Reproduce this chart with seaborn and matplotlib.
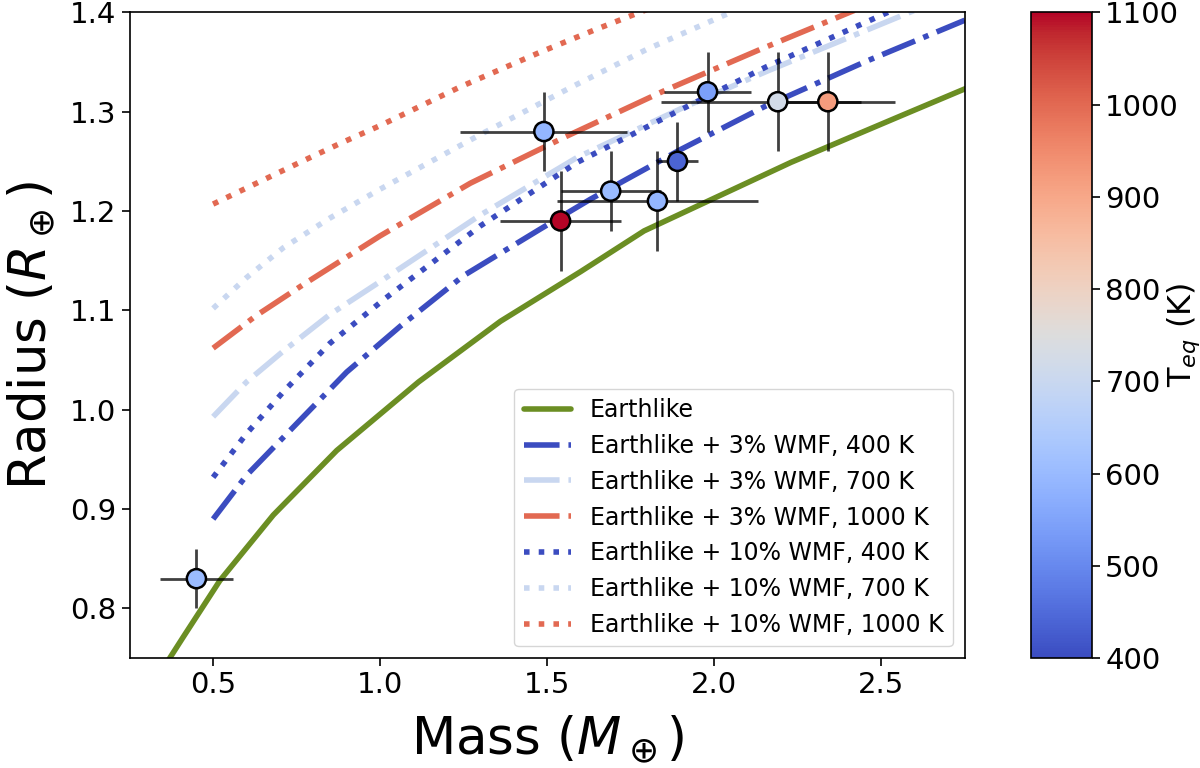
import numpy as np
import pandas as pd
import seaborn as sns
import matplotlib.pyplot as plt
from matplotlib.colors import Normalize
from matplotlib.cm import ScalarMappable

# === Données : planètes observées ===
masse = [0.45, 1.49, 1.54, 1.69, 1.83, 1.89, 1.98, 2.19, 2.34]
rayon = [0.83, 1.28, 1.19, 1.22, 1.21, 1.25, 1.32, 1.31, 1.31]
masse_err_bas = [0.11, 0.25, 0.18, 0.15, 0.30, 0.06, 0.13, 0.35, 0.13]
masse_err_haut = [0.11, 0.25, 0.18, 0.15, 0.30, 0.06, 0.13, 0.25, 0.20]
rayon_err = [0.03, 0.04, 0.05, 0.04, 0.05, 0.04, 0.04, 0.05, 0.05]
teq = [600, 590, 1100, 600, 590, 440, 540, 720, 920]

# === Courbes de modèles ===
earth_m = [0.34, 0.37, 0.41, 0.52, 0.68, 0.87, 1.115, 1.36, 1.60, 1.79, 2.23, 2.56, 2.80]
earth_r = [0.735, 0.75, 0.771, 0.828, 0.894, 0.959, 1.028, 1.089, 1.139, 1.18, 1.249, 1.296, 1.330]

w3_400_m = [0.5, 0.6, 0.75, 0.9, 1.06, 1.25, 1.48, 1.63, 1.9, 2.15, 2.45, 2.75]
w3_400_r = [0.890, 0.934, 0.986, 1.038, 1.084, 1.135, 1.182, 1.212, 1.262, 1.305, 1.350, 1.392]
w3_700_m = [0.5, 0.6, 0.71, 0.85, 1.0, 1.3, 1.59, 1.9, 2.16, 2.6]
w3_700_r = [0.993, 1.028, 1.059, 1.096, 1.129, 1.196, 1.254, 1.303, 1.341, 1.402]
w3_1000_m = [0.5, 0.63, 0.77, 1.0, 1.27, 1.55, 1.85, 2.14, 2.42]
w3_1000_r = [1.062, 1.095, 1.126, 1.175, 1.228, 1.274, 1.321, 1.363, 1.402]
w10_400_m = [0.5, 0.6, 0.71, 0.85, 1.015, 1.3, 1.59, 1.9, 2.155, 2.52]
w10_400_r = [0.932, 0.976, 1.018, 1.067, 1.112, 1.185, 1.249, 1.302, 1.345, 1.40]
w10_700_m = [0.5, 0.6, 0.71, 0.85, 1.0, 1.3, 1.58, 1.8, 2.05]
w10_700_r = [1.102, 1.133, 1.163, 1.193, 1.222, 1.277, 1.326, 1.363, 1.40]
w10_1000_m = [0.5, 0.63, 0.76, 0.88, 1.0, 1.24, 1.48, 1.64, 1.80]
w10_1000_r = [1.207, 1.228, 1.249, 1.268, 1.286, 1.325, 1.36, 1.382, 1.403]

sns.set_theme(style="ticks", rc={"axes.edgecolor": "black", "xtick.color": "black",
                                 "ytick.color": "black", "axes.linewidth": 1.2,
                                 "text.color": "black", "axes.labelcolor": "black"})

norm = Normalize(vmin=400, vmax=1100)
cmap = plt.get_cmap("coolwarm")

fig = plt.figure(figsize=(12, 7.68), dpi=100)
ax = fig.add_axes([0.108, 0.143, 0.696, 0.841])
cax = fig.add_axes([0.859, 0.143, 0.051, 0.841])

courbes = [
    (earth_m, earth_r, "#6b8e23", "-", "Earthlike"),
    (w3_400_m, w3_400_r, cmap(norm(400)), "-.", "Earthlike + 3% WMF, 400 K"),
    (w3_700_m, w3_700_r, cmap(norm(700)), "-.", "Earthlike + 3% WMF, 700 K"),
    (w3_1000_m, w3_1000_r, cmap(norm(1000)), "-.", "Earthlike + 3% WMF, 1000 K"),
    (w10_400_m, w10_400_r, cmap(norm(400)), ":", "Earthlike + 10% WMF, 400 K"),
    (w10_700_m, w10_700_r, cmap(norm(700)), ":", "Earthlike + 10% WMF, 700 K"),
    (w10_1000_m, w10_1000_r, cmap(norm(1000)), ":", "Earthlike + 10% WMF, 1000 K"),
]
for m, r, c, ls, lab in courbes:
    df = pd.DataFrame({"m": m, "r": r})
    sns.lineplot(data=df, x="m", y="r", color=c, linestyle=ls, linewidth=4,
                 label=lab, sort=False, estimator=None, ax=ax, zorder=2)

# === Barres d'erreur + points ===
ax.errorbar(masse, rayon, xerr=[masse_err_bas, masse_err_haut], yerr=rayon_err,
            fmt="none", ecolor="black", alpha=0.75, elinewidth=2, zorder=3)
pts = pd.DataFrame({"masse": masse, "rayon": rayon, "teq": teq})
sns.scatterplot(data=pts, x="masse", y="rayon", hue="teq", palette="coolwarm",
                hue_norm=(400, 1100), s=190, edgecolor="black", linewidth=1.8,
                legend=False, ax=ax, zorder=4)

ax.set_xlim(0.25, 2.75)
ax.set_ylim(0.75, 1.4)
ax.set_xticks([0.5, 1.0, 1.5, 2.0, 2.5])
ax.set_yticks([0.8, 0.9, 1.0, 1.1, 1.2, 1.3, 1.4])
ax.tick_params(labelsize=21, length=6, width=1.2)
ax.set_xlabel(r"Mass ($M_\oplus$)", fontsize=37, labelpad=10)
ax.set_ylabel(r"Radius ($R_\oplus$)", fontsize=37, labelpad=9)
ax.legend(loc="lower right", fontsize=17)

cb = fig.colorbar(ScalarMappable(norm=norm, cmap=cmap), cax=cax)
cb.set_ticks(range(400, 1101, 100))
cb.ax.tick_params(labelsize=21, length=6, width=1.2)
cb.set_label(r"T$_{eq}$ (K)", fontsize=23)
cb.ax.yaxis.set_label_coords(2.2, 0.5)

fig.savefig("out.png", dpi=100)
